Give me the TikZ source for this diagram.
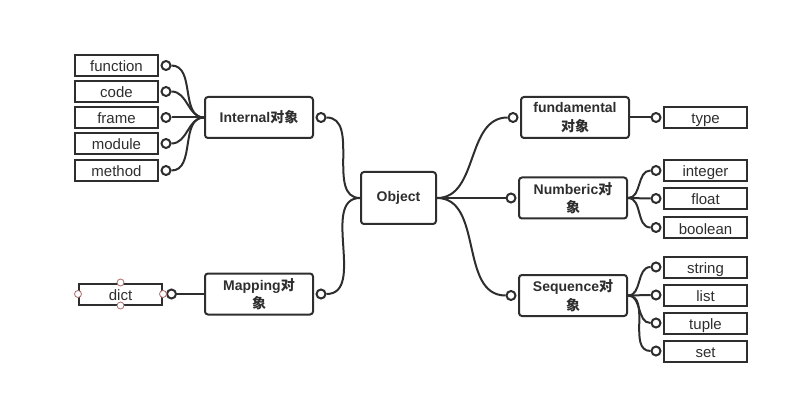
\documentclass[tikz,border=0pt]{standalone}
\usepackage{fontspec}
\usetikzlibrary{positioning}
\setmainfont{Liberation Sans}
\newfontfamily\cjk{Noto Sans CJK SC}
\definecolor{ink}{HTML}{2E2E2E}
\definecolor{handlered}{HTML}{B06A6A}
\tikzset{>=stealth}

\begin{document}
\begin{tikzpicture}[x=1pt,y=-1pt,
    root/.style={draw=ink, line width=2pt, rounded corners=3pt, minimum width=75, minimum height=52, inner sep=0, text=ink, font=\fontsize{14}{16}\selectfont\bfseries},
    topic/.style={draw=ink, line width=2pt, rounded corners=3pt, minimum width=108, minimum height=41, inner sep=0, align=center, text=ink, font=\fontsize{14}{18.5}\selectfont\bfseries},
    leaf/.style={draw=ink, line width=2pt, minimum width=83, minimum height=21, inner sep=0, text height=13, text depth=0, text=ink, font=\fontsize{15}{17}\selectfont},
    knob/.style={circle, draw=ink, line width=2pt, fill=white, minimum size=9, inner sep=0},
    handle/.style={circle, draw=handlered, line width=0.8pt, fill=white, minimum size=7, inner sep=0},
    link/.style={draw=ink, line width=2pt}]
    \useasboundingbox (0,0) rectangle (787,406);

    \node[root] (obj) at (398.5,198) {Object};
    \node[topic] (internal) at (259,117.5) {Internal{\cjk 对象}};
    \node[topic] (mapping) at (259,294) {Mapping{\cjk 对}\\{\cjk 象}};
    \node[topic] (fund) at (575,117.5) {fundamental\\{\cjk 对象}};
    \node[topic] (numb) at (573,198) {Numberic{\cjk 对}\\{\cjk 象}};
    \node[topic] (seq) at (573,295.5) {Sequence{\cjk 对}\\{\cjk 象}};

    \node[leaf] (function) at (116.5,65.5) {function};
    \node[leaf] (code) at (116.5,91.5) {code};
    \node[leaf] (frame) at (116.5,117.5) {frame};
    \node[leaf] (module) at (116.5,143.5) {module};
    \node[leaf] (method) at (116.5,170.5) {method};
    \node[leaf] (dict) at (120.5,294) {dict};

    \node[leaf] (type) at (705.5,117.5) {type};
    \node[leaf] (integer) at (705.5,170.5) {integer};
    \node[leaf] (float) at (705.5,198.5) {float};
    \node[leaf] (boolean) at (705.5,227.5) {boolean};
    \node[leaf] (string) at (705.5,267) {string};
    \node[leaf] (list) at (705.5,295) {list};
    \node[leaf] (tuple) at (705.5,323) {tuple};
    \node[leaf] (set) at (705.5,351) {set};

    \foreach \n in {function,code,frame,module,method}
        \node[knob, right=1.5 of \n] (k\n) {};
    \node[knob, right=3 of dict] (kdict) {};
    \node[knob, right=1.5 of internal] (kinternal) {};
    \node[knob, right=1.5 of mapping] (kmapping) {};
    \node[knob, left=1.5 of fund] (kfund) {};
    \node[knob, left=1.5 of numb] (knumb) {};
    \node[knob, left=1.5 of seq] (kseq) {};
    \foreach \n in {type,integer,float,boolean,string,list,tuple,set}
        \node[knob, left=1.5 of \n] (k\n) {};

    \foreach \n in {dict.north,dict.south,dict.west,dict.east}
        \node[handle] at (\n) {};

    \draw[link] (obj.west) to[out=180, in=0] (kinternal);
    \draw[link] (obj.west) to[out=180, in=0] (kmapping);
    \draw[link] (obj.east) to[out=0, in=180] (kfund);
    \draw[link] (obj.east) to[out=0, in=180] (knumb);
    \draw[link] (obj.east) to[out=0, in=180] (kseq);

    \foreach \n in {function,code,frame,module,method}
        \draw[link] (internal.west) to[out=180, in=0] (k\n);
    \draw[link] (mapping.west) -- (kdict);
    \draw[link] (fund.east) -- (ktype);
    \foreach \n in {integer,float,boolean}
        \draw[link] (numb.east) to[out=0, in=180] (k\n);
    \foreach \n in {string,list,tuple,set}
        \draw[link] (seq.east) to[out=0, in=180] (k\n);
\end{tikzpicture}
\end{document}
